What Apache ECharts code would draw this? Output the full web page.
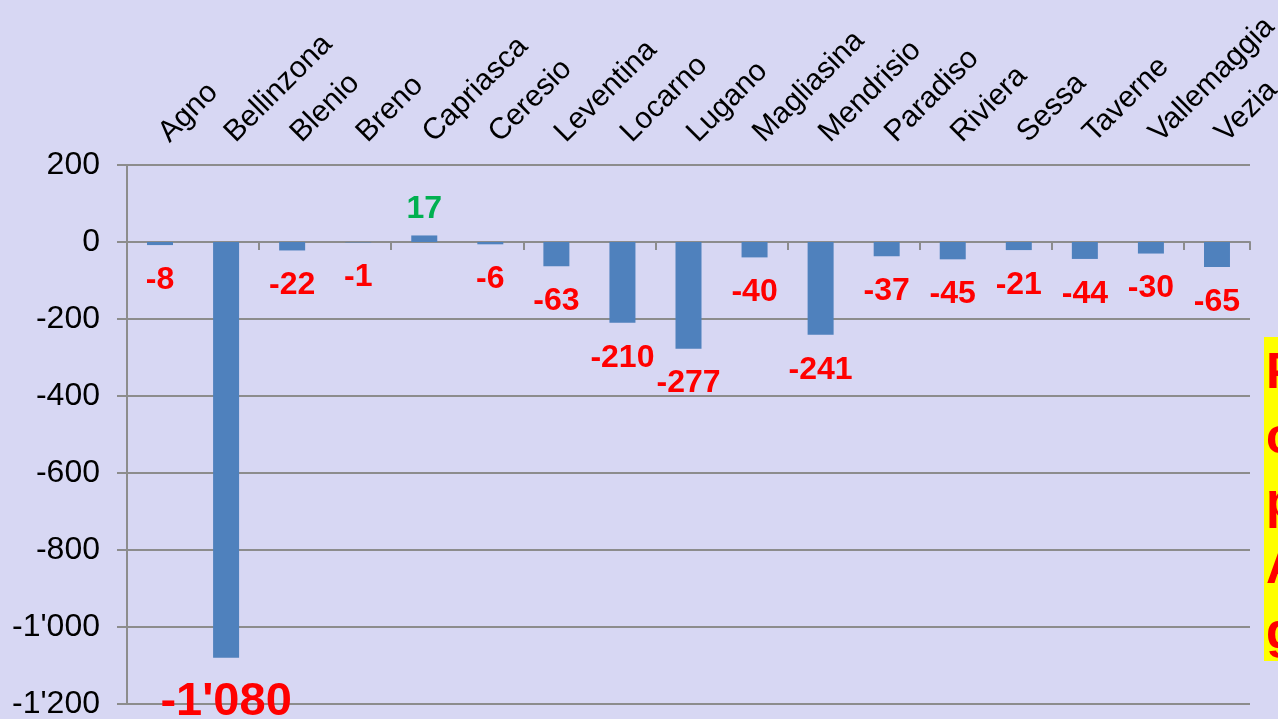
<!DOCTYPE html>
<html><head><meta charset="utf-8">
<script src="https://cdn.jsdelivr.net/npm/echarts@6/dist/echarts.min.js"></script>
<style>html,body{margin:0;padding:0;background:#d7d7f3;overflow:hidden}#c{width:1278px;height:719px}</style>
</head><body><div id="c"></div>
<script>
const categories = ['Agno','Bellinzona','Blenio','Breno','Capriasca','Ceresio','Leventina','Locarno','Lugano','Magliasina','Mendrisio','Paradiso','Riviera','Sessa','Taverne','Vallemaggia','Vezia'];
const values = [-8,-1080,-22,-1,17,-6,-63,-210,-277,-40,-241,-37,-45,-21,-44,-30,-65];
const yMin = -1200, yMax = 200, yStep = 200;
const sideNote = ['P','c','p','A','g'];

function fmt(v){
  const s = Math.abs(v).toString().replace(/\B(?=(\d{3})+(?!\d))/g, "'");
  return (v < 0 ? '-' : '') + s;
}
const FONT = '"Liberation Sans", Arial, sans-serif';
const GRAY = '#8c8c8c';

const chart = echarts.init(document.getElementById('c'), null, {renderer:'canvas'});
const data = values.map((v,i) => {
  const big = Math.abs(v) >= 1000;
  return {
    value: v,
    label: {
      position: v < 0 ? 'bottom' : 'top',
      color: v < 0 ? '#ff0000' : '#00b050',
      fontSize: big ? 47 : 32,
      distance: v < 0 ? (big ? 21 : 19) : 10
    }
  };
});
const noteGraphics = sideNote.map((t,i) => ({
  type:'text', left: 1266, top: 349 + i*65, z: 100,
  style:{text:t, fill:'#ff0000', font:'bold 50px ' + FONT, textVerticalAlign:'top'}
}));
chart.setOption({
  backgroundColor:'#d7d7f3',
  animation:false,
  textStyle:{fontFamily: FONT},
  grid:{left:127, right:28, top:165, bottom:15, containLabel:false, outerBoundsMode:'none'},
  xAxis:[{
    type:'category', data:categories, position:'bottom',
    axisLine:{show:true, onZero:true, lineStyle:{color:GRAY, width:2}},
    axisTick:{show:true, length:8, lineStyle:{color:GRAY, width:2}},
    axisLabel:{show:false}, splitLine:{show:false}
  },{
    type:'category', data:categories, position:'top',
    axisLine:{show:false}, axisTick:{show:false},
    axisLabel:{show:true, rotate:-45, fontSize:30, color:'#000', margin:24, padding:[0,0,0,5], fontFamily:FONT, interval:0}
  }],
  yAxis:{
    type:'value', min:yMin, max:yMax, interval:yStep,
    axisLine:{show:true, lineStyle:{color:GRAY, width:2}},
    axisTick:{show:true, length:10, lineStyle:{color:GRAY, width:2}},
    splitLine:{show:true, lineStyle:{color:GRAY, width:2}},
    axisLabel:{fontSize:32, color:'#000', margin:27, formatter:fmt, fontFamily:FONT}
  },
  series:[{
    type:'bar', xAxisIndex:0, data:data, barWidth:26,
    itemStyle:{color:'#4f81bd'},
    label:{show:true, fontWeight:'bold', fontFamily:FONT, formatter:p => fmt(p.value)}
  }],
  graphic:[{type:'rect', shape:{x:1264, y:337, width:30, height:324}, style:{fill:'#ffff00'}, z:99}].concat(noteGraphics)
});
</script></body></html>
